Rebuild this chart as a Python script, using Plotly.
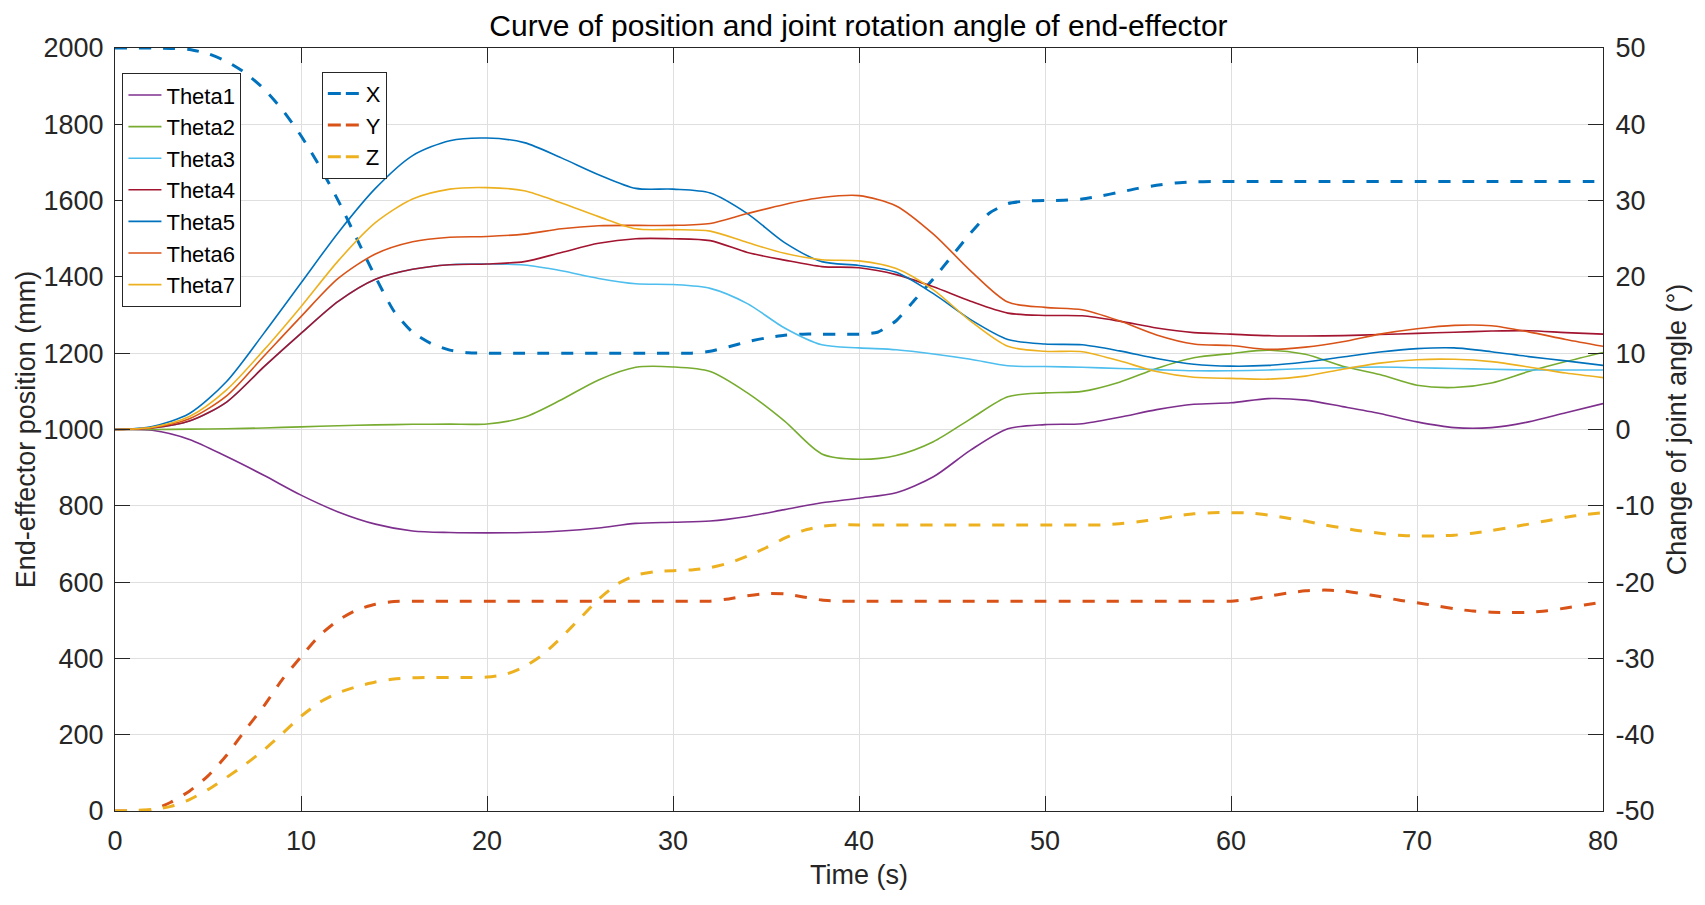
import plotly.graph_objects as go

# ---------------- data ----------------
T_POS = list(range(0, 81))  # time (s) for position curves
X_MM = [2000, 2000, 2000, 1999, 1996, 1985, 1965, 1935, 1893, 1838,
        1770, 1690, 1600, 1500, 1400, 1310, 1255, 1225, 1208, 1201,
        1200, 1200, 1200, 1200, 1200, 1200, 1200, 1200, 1200, 1200,
        1200, 1200, 1205, 1217, 1230, 1240, 1247, 1250, 1250, 1250,
        1250, 1255, 1285, 1340, 1395, 1455, 1515, 1567, 1592, 1599,
        1600, 1601, 1604, 1612, 1622, 1632, 1640, 1646, 1649, 1650,
        1650, 1650, 1650, 1650, 1650, 1650, 1650, 1650, 1650, 1650,
        1650, 1650, 1650, 1650, 1650, 1650, 1650, 1650, 1650, 1650,
        1650]
Y_MM = [0, 0, 3, 23, 52, 92, 146, 212, 275, 345,
        404, 460, 500, 527, 542, 549, 550, 550, 550, 550,
        550, 550, 550, 550, 550, 550, 550, 550, 550, 550,
        550, 550, 550, 556, 564, 570, 569, 561, 553, 550,
        550, 550, 550, 550, 550, 550, 550, 550, 550, 550,
        550, 550, 550, 550, 550, 550, 550, 550, 550, 550,
        550, 555, 563, 571, 577, 579, 577, 570, 562, 553,
        546, 538, 530, 524, 521, 520, 521, 525, 532, 540,
        548]
Z_MM = [0, 1, 4, 12, 30, 56, 88, 122, 160, 203,
        248, 285, 310, 326, 338, 346, 349, 350, 350, 350,
        351, 358, 378, 410, 455, 505, 555, 595, 618, 627,
        630, 632, 638, 650, 668, 690, 715, 735, 746, 750,
        750, 750, 750, 750, 750, 750, 750, 750, 750, 750,
        750, 750, 750, 750, 753, 758, 765, 773, 779, 782,
        782, 781, 776, 768, 760, 750, 742, 734, 728, 723,
        721, 721, 723, 728, 735, 743, 752, 761, 770, 777,
        782]

T_ANG = list(range(0, 81, 2))  # time (s) for joint angles
THETA1 = [0, -0.1, -1.3, -3.55, -6.0, -8.6, -10.8, -12.4, -13.3, -13.5,
          -13.55, -13.5, -13.3, -12.9, -12.3, -12.15, -12.0, -11.4, -10.5, -9.6,
          -9.0, -8.3, -6.2, -2.7, 0.1, 0.64, 0.75, 1.6, 2.6, 3.3,
          3.5, 4.05, 3.85, 3.0, 2.1, 1.0, 0.25, 0.25, 1.0, 2.2,
          3.4]
THETA2 = [0, 0.0, 0.05, 0.1, 0.2, 0.35, 0.5, 0.6, 0.68, 0.7,
          0.72, 1.6, 3.9, 6.5, 8.15, 8.2, 7.6, 4.8, 1.1, -3.2,
          -3.9, -3.4, -1.6, 1.4, 4.3, 4.8, 5.0, 6.2, 8.0, 9.4,
          9.95, 10.4, 9.85, 8.3, 7.2, 5.8, 5.5, 6.1, 7.6, 8.9,
          10.1]
THETA3 = [0, 0.2, 1.1, 3.6, 8.2, 12.6, 16.8, 19.7, 21.0, 21.6,
          21.7, 21.55, 20.8, 19.8, 19.1, 19.0, 18.5, 16.5, 13.3, 11.1,
          10.7, 10.45, 9.9, 9.2, 8.35, 8.25, 8.15, 8.0, 7.85, 7.7,
          7.7, 7.8, 8.0, 8.1, 8.2, 8.1, 8.0, 7.9, 7.8, 7.8,
          7.8]
THETA4 = [0, 0.2, 1.1, 3.6, 8.2, 12.6, 16.8, 19.7, 21.0, 21.6,
          21.7, 22.0, 23.2, 24.4, 25.0, 25.0, 24.75, 23.2, 22.2, 21.35,
          21.2, 20.3, 18.7, 16.8, 15.25, 14.95, 14.9, 14.2, 13.3, 12.7,
          12.5, 12.3, 12.25, 12.3, 12.45, 12.6, 12.75, 12.9, 12.95, 12.7,
          12.5]
THETA5 = [0, 0.4, 2.1, 6.3, 12.6, 19.2, 25.8, 31.6, 35.9, 37.85,
          38.2, 37.6, 35.6, 33.4, 31.6, 31.5, 31.0, 28.3, 24.5, 22.0,
          21.5, 20.6, 17.8, 14.4, 11.8, 11.2, 11.1, 10.3, 9.3, 8.55,
          8.3, 8.4, 8.85, 9.5, 10.15, 10.6, 10.7, 10.2, 9.55, 9.0,
          8.4]
THETA6 = [0, 0.25, 1.4, 4.4, 9.6, 14.8, 19.8, 23.0, 24.6, 25.2,
          25.3, 25.6, 26.3, 26.7, 26.75, 26.75, 27.0, 28.3, 29.5, 30.4,
          30.65, 29.3, 25.6, 20.8, 16.7, 16.0, 15.7, 14.25, 12.4, 11.2,
          11.0, 10.5, 10.8, 11.5, 12.5, 13.2, 13.65, 13.6, 12.8, 11.8,
          10.9]
THETA7 = [0, 0.3, 1.7, 5.2, 10.4, 16.1, 22.1, 27.1, 30.2, 31.5,
          31.7, 31.3, 29.7, 27.9, 26.3, 26.2, 26.0, 24.5, 23.1, 22.25,
          22.1, 21.1, 18.3, 14.2, 10.9, 10.25, 10.2, 9.0, 7.6, 6.85,
          6.7, 6.6, 7.0, 7.9, 8.7, 9.15, 9.2, 8.9, 8.2, 7.4,
          6.8]

THETA_NAMES = ["Theta1", "Theta2", "Theta3", "Theta4", "Theta5", "Theta6", "Theta7"]
THETA_COLORS = ["#7E2F8E", "#77AC30", "#4DBEEE", "#A2142F", "#0072BD", "#D95319", "#EDB120"]
POS_NAMES = ["X", "Y", "Z"]
POS_COLORS = ["#0072BD", "#D95319", "#EDB120"]

X_TICKS = [0, 10, 20, 30, 40, 50, 60, 70, 80]
YL_TICKS = [0, 200, 400, 600, 800, 1000, 1200, 1400, 1600, 1800, 2000]
YR_TICKS = [-50, -40, -30, -20, -10, 0, 10, 20, 30, 40, 50]
YR_TICK_TEXT = ["-50", "-40", "-30", "-20", "-10", "0", "10", "20", "30", "40", "50"]

TITLE = "Curve of position and joint rotation angle of end-effector"
X_LABEL = "Time (s)"
YL_LABEL = "End-effector position (mm)"
YR_LABEL = "Change of joint angle (°)"

FONT = "Liberation Sans, Arial, sans-serif"
AX = "#262626"
TICK_SIZE = 27
LABEL_SIZE = 27

fig = go.Figure()

for name, vals, col in zip(POS_NAMES, [X_MM, Y_MM, Z_MM], POS_COLORS):
    fig.add_trace(go.Scatter(
        x=T_POS, y=vals, name=name, mode="lines", yaxis="y", legend="legend2",
        legendgroup=name, showlegend=False,
        line=dict(color=col, width=3, dash="12px,12px", shape="spline", smoothing=0.6),
    ))
    # legend entry (same style, MATLAB-like short dash pattern in the legend sample)
    fig.add_trace(go.Scatter(
        x=[None], y=[None], name=name, mode="lines", yaxis="y", legend="legend2",
        legendgroup=name, showlegend=True, hoverinfo="skip",
        line=dict(color=col, width=3, dash="13px,5px"),
    ))

for name, vals, col in zip(THETA_NAMES, [THETA1, THETA2, THETA3, THETA4, THETA5, THETA6, THETA7], THETA_COLORS):
    fig.add_trace(go.Scatter(
        x=T_ANG, y=vals, name=name, mode="lines", yaxis="y2", legend="legend",
        line=dict(color=col, width=1.6, shape="spline", smoothing=0.8),
    ))

legend_common = dict(
    bgcolor="white", bordercolor=AX, borderwidth=1,
    font=dict(family=FONT, size=22, color="black"),
    xanchor="left", yanchor="top", traceorder="normal",
    itemwidth=33, tracegroupgap=0,
)

fig.update_layout(
    width=1705, height=905,
    margin=dict(l=115, r=102, t=48, b=94, autoexpand=False),
    paper_bgcolor="white", plot_bgcolor="white",
    font=dict(family=FONT, size=TICK_SIZE, color=AX),
    title=dict(text=TITLE, x=0.5035, xanchor="center", y=0.972, yanchor="middle",
               font=dict(family=FONT, size=30, color="black")),
    showlegend=True,
    legend=dict(x=0.005, y=0.967, **legend_common),
    legend2=dict(x=0.139, y=0.969, **legend_common),
    xaxis=dict(
        range=[0, 80], tickvals=X_TICKS, ticks="inside", ticklen=15, tickwidth=1,
        tickcolor=AX, showline=True, linecolor=AX, linewidth=1, mirror="ticks",
        showgrid=True, gridcolor="#dfdfdf", gridwidth=1, zeroline=False,
        tickfont=dict(family=FONT, size=TICK_SIZE, color=AX), ticklabelstandoff=6,
        title=dict(text=X_LABEL, font=dict(family=FONT, size=LABEL_SIZE, color=AX), standoff=9),
        automargin=False,
    ),
    yaxis=dict(
        range=[0, 2000], tickvals=YL_TICKS, ticks="inside", ticklen=15, tickwidth=1,
        tickcolor=AX, showline=True, linecolor=AX, linewidth=1, mirror=False,
        showgrid=True, gridcolor="#dfdfdf", gridwidth=1, zeroline=False,
        tickfont=dict(family=FONT, size=TICK_SIZE, color=AX), ticklabelstandoff=5,
        title=dict(text=YL_LABEL, font=dict(family=FONT, size=LABEL_SIZE, color=AX), standoff=0),
        automargin=False,
    ),
    yaxis2=dict(
        range=[-50, 50], tickvals=YR_TICKS, ticktext=YR_TICK_TEXT, ticks="inside",
        ticklen=15, tickwidth=1,
        tickcolor=AX, showline=True, linecolor=AX, linewidth=1,
        overlaying="y", side="right", showgrid=False, zeroline=False,
        tickfont=dict(family=FONT, size=TICK_SIZE, color=AX), ticklabelstandoff=6,
        title=dict(text=YR_LABEL, font=dict(family=FONT, size=LABEL_SIZE, color=AX), standoff=13),
        automargin=False,
    ),
)

fig.write_html("out.html", config={"displayModeBar": False},
               post_script="document.body.style.margin='0px';")
